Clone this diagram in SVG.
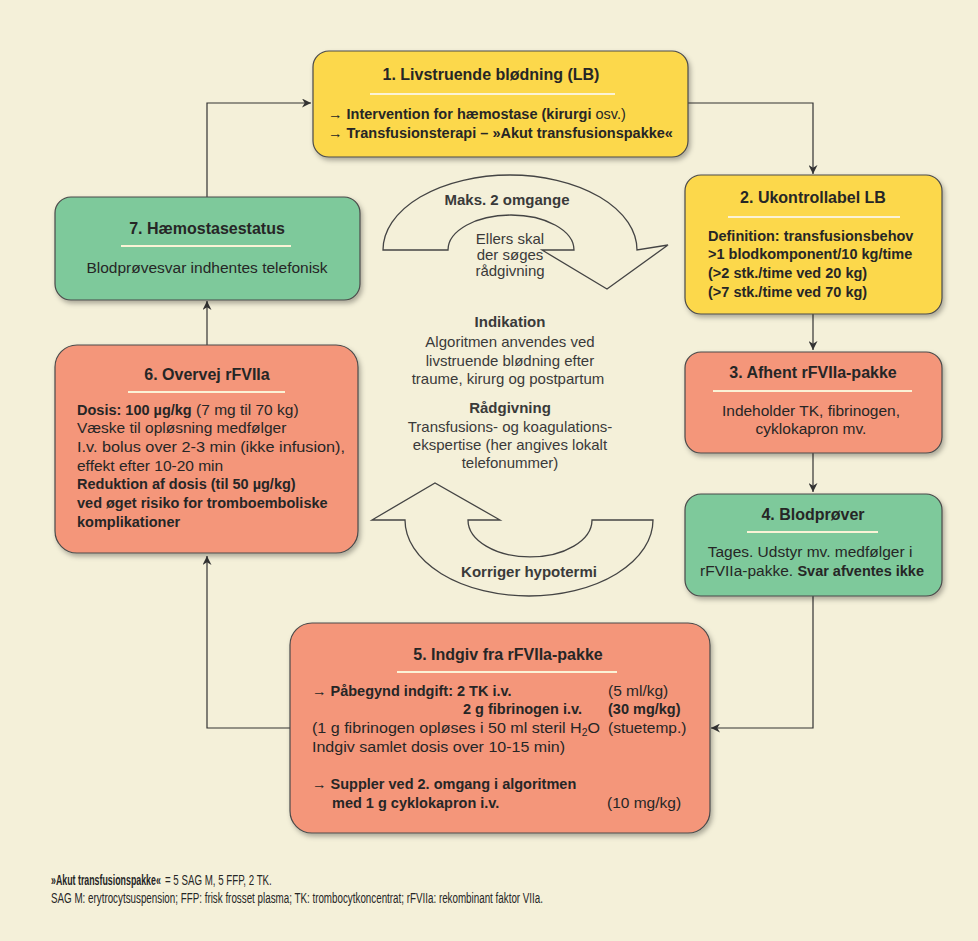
<svg xmlns="http://www.w3.org/2000/svg" width="978" height="941" viewBox="0 0 978 941">
<defs>
<style>
text{font-family:"Liberation Sans",Arial,sans-serif;fill:#262626}
.t{font-size:16px;font-weight:bold;text-anchor:middle}
.b{font-size:15.5px}
.bb{font-size:14.5px;font-weight:bold}
.c{font-size:15px;text-anchor:middle;fill:#3a3a3a}
.cb{font-size:15px;text-anchor:middle;font-weight:bold;fill:#3a3a3a}
.f{font-size:14.5px}
.box{stroke:#4a4a4a;stroke-width:1.2;filter:url(#sh)}
.y{fill:#fcd84c}
.r{fill:#f4967a}
.g{fill:#7ec99b}
.ul{stroke:#fbf3d6;stroke-width:2.2}
.con{fill:none;stroke:#333;stroke-width:1.2}
.big{fill:#f4f0d9;stroke:#444;stroke-width:1.3}
</style>
<filter id="sh" x="-10%" y="-10%" width="125%" height="130%">
<feDropShadow dx="2" dy="3" stdDeviation="2.5" flood-color="#000" flood-opacity="0.3"/>
</filter>
<marker id="ah" viewBox="0 0 10 10" refX="10" refY="5" markerWidth="9" markerHeight="9" markerUnits="userSpaceOnUse" orient="auto">
<path d="M0,0 L10,5 L0,10 L3,5 Z" fill="#333"/>
</marker>
</defs>
<rect width="978" height="941" fill="#f4f0d9"/>

<g id="connectors">
<path class="con" d="M207,197 V103 H311" marker-end="url(#ah)"/>
<path class="con" d="M688,103 H813 V174" marker-end="url(#ah)"/>
<path class="con" d="M813,314 V350" marker-end="url(#ah)"/>
<path class="con" d="M813,453 V492" marker-end="url(#ah)"/>
<path class="con" d="M813,596 V728 H711" marker-end="url(#ah)"/>
<path class="con" d="M290,728 H207 V556" marker-end="url(#ah)"/>
<path class="con" d="M207,345 V301" marker-end="url(#ah)"/>
</g>

<g id="cycle-top">
<path class="big" d="M383,250 L448,250 A63,35 0 0 1 574,250 L542,250 L607,289 L668,245 L637,250 A127,75 0 0 0 383,250 Z"/>
<text class="cb" x="507" y="205">Maks. 2 omgange</text>
<text class="c" x="510" y="244">Ellers skal</text>
<text class="c" x="510" y="260">der søges</text>
<text class="c" x="510" y="276">rådgivning</text>
</g>

<g id="center-text">
<text class="cb" x="510" y="327">Indikation</text>
<text class="c" x="510" y="347">Algoritmen anvendes ved</text>
<text class="c" x="510" y="366">livstruende blødning efter</text>
<text class="c" x="508" y="384">traume, kirurg og postpartum</text>
<text class="cb" x="510" y="413">Rådgivning</text>
<text class="c" x="510" y="432">Transfusions- og koagulations-</text>
<text class="c" x="510" y="450">ekspertise (her angives lokalt</text>
<text class="c" x="510" y="468">telefonummer)</text>
</g>

<g id="cycle-bottom">
<path class="big" d="M372,520 L435,483 L500,520 L468,520 A62,37 0 0 0 592,520 L653,520 A124,76 0 0 1 405,520 Z"/>
<text class="cb" x="529" y="577">Korriger hypotermi</text>
</g>

<g id="node1">
<rect class="box y" x="313" y="51" width="375" height="106" rx="16"/>
<text class="t" x="491" y="80">1. Livstruende blødning (LB)</text>
<line class="ul" x1="370" y1="94" x2="615" y2="94"/>
<text class="bb" x="328" y="119">→ Intervention for hæmostase (kirurgi <tspan font-weight="normal">osv.)</tspan></text>
<text class="bb" x="328" y="138">→ Transfusionsterapi – »Akut transfusionspakke«</text>
</g>

<g id="node2">
<rect class="box y" x="685" y="175" width="257" height="139" rx="16"/>
<text class="t" x="813" y="203">2. Ukontrollabel LB</text>
<line class="ul" x1="728" y1="217" x2="900" y2="217"/>
<text class="bb" x="708" y="241">Definition: transfusionsbehov</text>
<text class="bb" x="708" y="259">&gt;1 blodkomponent/10 kg/time</text>
<text class="bb" x="708" y="278">(&gt;2 stk./time ved 20 kg)</text>
<text class="bb" x="708" y="297">(&gt;7 stk./time ved 70 kg)</text>
</g>

<g id="node3">
<rect class="box r" x="685" y="352" width="257" height="101" rx="16"/>
<text class="t" x="813" y="378">3. Afhent rFVIIa-pakke</text>
<line class="ul" x1="713" y1="391" x2="912" y2="391"/>
<text class="b" x="811" y="416" text-anchor="middle">Indeholder TK, fibrinogen,</text>
<text class="b" x="811" y="434" text-anchor="middle">cyklokapron mv.</text>
</g>

<g id="node4">
<rect class="box g" x="685" y="494" width="257" height="102" rx="16"/>
<text class="t" x="813" y="520">4. Blodprøver</text>
<line class="ul" x1="747" y1="532" x2="878" y2="532"/>
<text class="b" x="810" y="557" text-anchor="middle">Tages. Udstyr mv. medfølger i</text>
<text class="b" x="812" y="576" text-anchor="middle">rFVIIa-pakke. <tspan font-weight="bold" font-size="14.5">Svar afventes ikke</tspan></text>
</g>

<g id="node5">
<rect class="box r" x="290" y="623" width="420" height="210" rx="22"/>
<text class="t" x="508" y="660">5. Indgiv fra rFVIIa-pakke</text>
<line class="ul" x1="397" y1="672" x2="617" y2="672"/>
<text class="bb" x="312" y="696">→ Påbegynd indgift: 2 TK i.v.</text>
<text class="b" x="608" y="696">(5 ml/kg)</text>
<text class="bb" x="582" y="714" text-anchor="end">2 g fibrinogen i.v.</text>
<text class="bb" x="608" y="714">(30 mg/kg)</text>
<text class="b" x="312" y="733" textLength="288" lengthAdjust="spacingAndGlyphs">(1 g fibrinogen opløses i 50 ml steril H<tspan font-size="10" dy="3">2</tspan><tspan dy="-3">O</tspan></text>
<text class="b" x="608" y="733">(stuetemp.)</text>
<text class="b" x="312" y="752" textLength="253" lengthAdjust="spacingAndGlyphs">Indgiv samlet dosis over 10-15 min)</text>
<text class="bb" x="312" y="789"><tspan font-weight="normal">→ </tspan>Suppler ved 2. omgang i algoritmen</text>
<text class="bb" x="332" y="808">med 1 g cyklokapron i.v.</text>
<text class="b" x="607" y="808">(10 mg/kg)</text>
</g>

<g id="node6">
<rect class="box r" x="55" y="345" width="303" height="208" rx="22"/>
<text class="t" x="207" y="380">6. Overvej rFVIIa</text>
<line class="ul" x1="128" y1="392" x2="285" y2="392"/>
<text class="b" x="77" y="415"><tspan font-weight="bold" font-size="14.5">Dosis: 100 µg/kg</tspan> (7 mg til 70 kg)</text>
<text class="b" x="77" y="433">Væske til opløsning medfølger</text>
<text class="b" x="77" y="452" textLength="268" lengthAdjust="spacingAndGlyphs">I.v. bolus over 2-3 min (ikke infusion),</text>
<text class="b" x="77" y="471">effekt efter 10-20 min</text>
<text class="bb" x="77" y="489">Reduktion af dosis (til 50 µg/kg)</text>
<text class="bb" x="77" y="508">ved øget risiko for tromboemboliske</text>
<text class="bb" x="77" y="527">komplikationer</text>
</g>

<g id="node7">
<rect class="box g" x="55" y="197" width="305" height="103" rx="16"/>
<text class="t" x="207" y="234">7. Hæmostasestatus</text>
<line class="ul" x1="121" y1="246" x2="291" y2="246"/>
<text class="b" x="207" y="273" text-anchor="middle">Blodprøvesvar indhentes telefonisk</text>
</g>

<g id="footer">
<text class="f" transform="translate(51,885) scale(0.6,1)" font-weight="bold" textLength="183" lengthAdjust="spacingAndGlyphs">»Akut transfusionspakke«</text>
<text class="f" transform="translate(165,885) scale(0.6,1)" textLength="178" lengthAdjust="spacingAndGlyphs">= 5 SAG M, 5 FFP, 2 TK.</text>
<text class="f" transform="translate(51,903) scale(0.6,1)" textLength="820" lengthAdjust="spacingAndGlyphs">SAG M: erytrocytsuspension;  FFP: frisk frosset plasma;  TK: trombocytkoncentrat;  rFVIIa: rekombinant faktor VIIa.</text>
</g>
</svg>
